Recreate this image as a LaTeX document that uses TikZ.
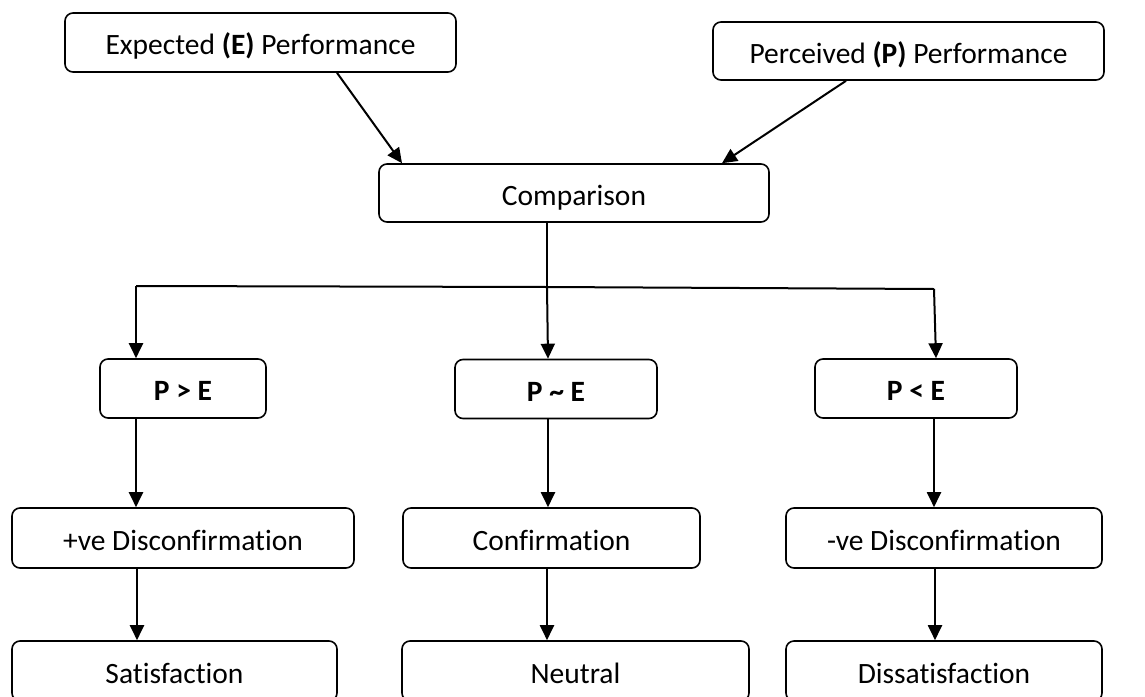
\documentclass[tikz,border=0pt]{standalone}
\usepackage{fontspec}
\setmainfont[Ligatures=NoCommon]{Carlito}
\usetikzlibrary{arrows.meta}
\tikzset{
  box/.style={draw, line width=1.6pt, rounded corners=8pt, inner sep=0pt, align=center,
    text height=24pt, text depth=0pt,
    font=\fontsize{29.5}{34}\selectfont},
  conn/.style={line width=2pt},
  arr/.style={conn, -{Triangle[length=15pt,width=14pt]}}
}
\begin{document}
\begin{tikzpicture}[x=1pt,y=-1pt]
\useasboundingbox (0,0) rectangle (1145,696);
\node[box, minimum width=391pt, minimum height=59pt] (E) at (260.5,42.5) {Expected \textbf{(E)} Performance};
\node[box, minimum width=391pt, minimum height=58pt] (P) at (908.5,51) {Perceived \textbf{(P)} Performance};
\node[box, minimum width=390pt, minimum height=58pt] (C) at (574,193) {Comparison};
\node[box, minimum width=166pt, minimum height=59pt] (PgE) at (183,388.5) {\textbf{P > E}};
\node[box, minimum width=202pt, minimum height=59pt] (PsE) at (556,389) {\textbf{P \char`~\ E}};
\node[box, minimum width=202pt, minimum height=59pt] (PlE) at (916,388.5) {\textbf{P < E}};
\node[box, minimum width=342pt, minimum height=60pt] (Pos) at (183,538) {+ve Disconfirmation};
\node[box, minimum width=297pt, minimum height=60pt] (Conf) at (551.5,538) {Confirmation};
\node[box, minimum width=316pt, minimum height=60pt] (Neg) at (944,538) {-ve Disconfirmation};
\node[box, minimum width=325pt, minimum height=60pt] (Sat) at (174.5,671) {Satisfaction};
\node[box, minimum width=347pt, minimum height=60pt] (Neu) at (575.5,671) {Neutral};
\node[box, minimum width=316pt, minimum height=60pt] (Dis) at (944,671) {Dissatisfaction};
\coordinate (jl) at (136,286);
\coordinate (jm) at (547,287);
\coordinate (jr) at (934,289);
\coordinate (jr2) at (936,289);
\draw[arr] ([xshift=76.5pt]E.south) -- ([xshift=-172pt]C.north);
\draw[arr] ([xshift=-62.5pt]P.south) -- ([xshift=148pt]C.north);
\draw[conn] (C.south -| jm) -- (jm);
\draw[conn] (jl) -- (jm) -- (jr);
\draw[arr] (jl) -- (jl |- PgE.north);
\draw[arr] (jm) -- ([xshift=1pt]jm |- PsE.north);
\draw[arr] (jr) -- (jr2 |- PlE.north);
\draw[arr] (jl |- PgE.south) -- (jl |- Pos.north);
\draw[arr] ([xshift=1pt]jm |- PsE.south) -- ([xshift=1pt]jm |- Conf.north);
\draw[arr] (jr |- PlE.south) -- (jr |- Neg.north);
\draw[arr] ([xshift=1pt]jl |- Pos.south) -- ([xshift=1pt]jl |- Sat.north);
\draw[arr] (jm |- Conf.south) -- (jm |- Neu.north);
\draw[arr] ([xshift=1pt]jr |- Neg.south) -- ([xshift=1pt]jr |- Dis.north);
\end{tikzpicture}
\end{document}
